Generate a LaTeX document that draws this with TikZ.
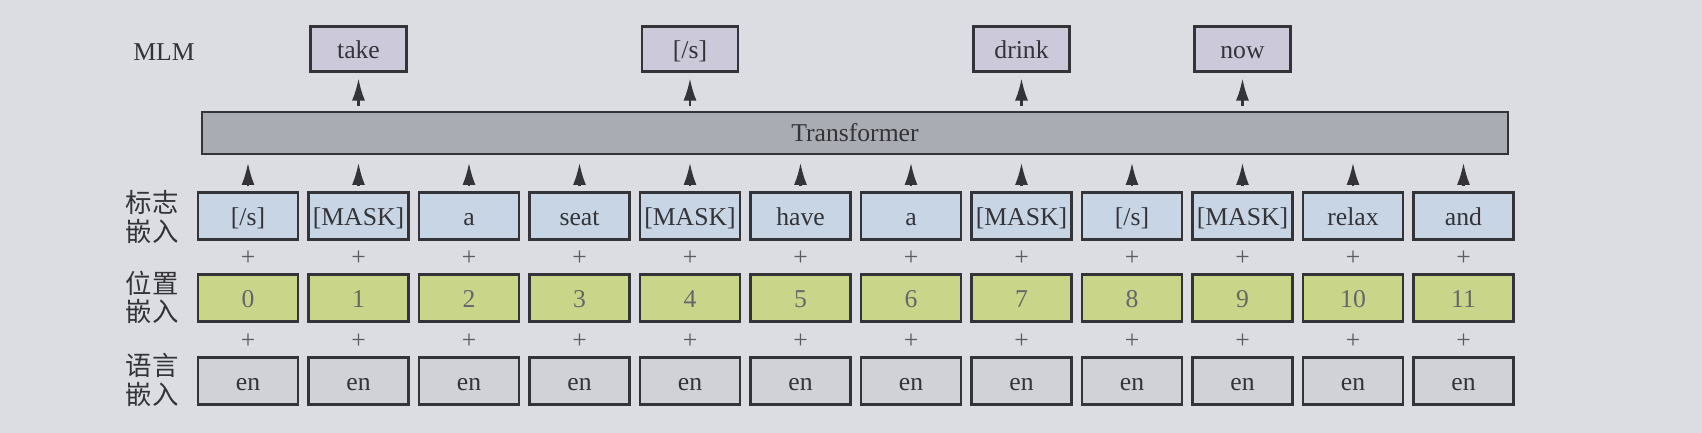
\documentclass[tikz,border=0pt]{standalone}
\usepackage{fontspec}
\setmainfont{Liberation Serif}
\newfontfamily\cjkfont{Noto Sans CJK SC}
\usepackage{xcolor}
\usetikzlibrary{arrows.meta}
\definecolor{paper}{HTML}{DCDDE3}
\definecolor{tokfill}{HTML}{C8D5E5}
\definecolor{posfill}{HTML}{C9D68A}
\definecolor{langfill}{HTML}{D1D2D8}
\definecolor{outfill}{HTML}{CBC9DA}
\definecolor{barfill}{HTML}{AAACB3}
\definecolor{ink}{HTML}{333338}

\begin{document}
\begin{tikzpicture}[
    box/.style={draw=ink, line width=0.6pt, minimum width=1.0cm, minimum height=0.47cm,
        inner sep=1pt, text height=1.6ex, text depth=0.45ex, text=ink, font=\fontsize{7.3}{9}\selectfont},
    tokbox/.style={box, fill=tokfill},
    posbox/.style={box, fill=posfill, text=ink!75},
    langbox/.style={box, fill=langfill},
    outbox/.style={box, fill=outfill, minimum width=0.96cm, minimum height=0.45cm},
    plus/.style={text=ink!80, font=\fontsize{7.3}{9}\selectfont, inner sep=0pt},
    rowlabel/.style={align=center, text=ink, font=\cjkfont\fontsize{7.5}{8}\selectfont, inner sep=0pt},
    up/.style={ink, line width=0.6pt, -{Latex[length=2.2mm,width=1.3mm]}}
]
    \fill[paper] (0,0) rectangle (17.02,4.33);
    \useasboundingbox (0,0) rectangle (17.02,4.33);

    % transformer bar
    \node[draw=ink, line width=0.6pt, fill=barfill, minimum width=13.06cm, minimum height=0.40cm,
        text=ink, font=\fontsize{7.3}{9}\selectfont] (trans) at (8.55,3.0) {Transformer};

    % labels on the left
    \node[text=ink, font=\fontsize{7.3}{9}\selectfont] (mlm) at (1.64,3.81) {MLM};
    \node[rowlabel] (toklabel) at (1.52,2.16) {标志\\嵌入};
    \node[rowlabel] (poslabel) at (1.52,1.36) {位置\\嵌入};
    \node[rowlabel] (langlabel) at (1.52,0.53) {语言\\嵌入};

    % the three embedding rows
    \foreach \t [count=\i from 0] in {{[/s]},{[MASK]},a,seat,{[MASK]},have,a,{[MASK]},{[/s]},{[MASK]},relax,and}
        {
          \pgfmathsetmacro{\x}{2.48+1.105*\i}
          \node[tokbox] (tok\i) at (\x,2.17) {\t};
          \node[posbox] (pos\i) at (\x,1.35) {\i};
          \node[langbox] (lang\i) at (\x,0.52) {en};
          \node[plus] (plusa\i) at (\x,1.75) {+};
          \node[plus] (plusb\i) at (\x,0.92) {+};
          \draw[up, shorten <=0.05cm, shorten >=0.08cm] (tok\i.north) -- (tok\i.north |- trans.south);
        };

    % MLM outputs
    \foreach \c/\w in {1/take,4/{[/s]},7/drink,9/now}
        {
          \pgfmathsetmacro{\x}{2.48+1.105*\c}
          \node[outbox] (out\c) at (\x,3.84) {\w};
          \draw[up, shorten <=0.05cm, shorten >=0.06cm] (trans.north -| out\c.south) -- (out\c.south);
        };
\end{tikzpicture}
\end{document}
